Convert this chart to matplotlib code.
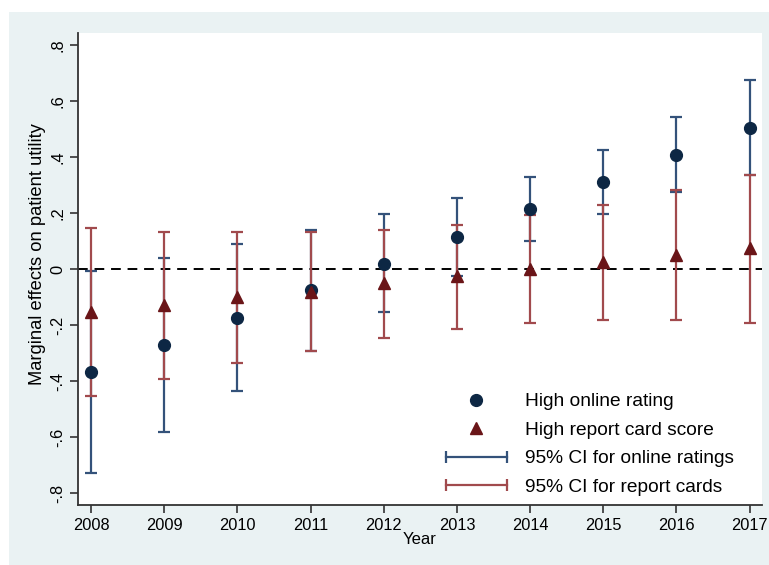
import numpy as np
import matplotlib
matplotlib.use("Agg")
import matplotlib.pyplot as plt
from matplotlib.lines import Line2D
from matplotlib.patches import Rectangle
from matplotlib.legend_handler import HandlerLine2D

plt.rcParams['font.family'] = ['Liberation Sans', 'DejaVu Sans']

# values
years = [2008, 2009, 2010, 2011, 2012, 2013, 2014, 2015, 2016, 2017]
online = [-0.368, -0.270, -0.174, -0.076, 0.020, 0.116, 0.214, 0.312, 0.408, 0.506]
online_lo = [-0.727, -0.581, -0.436, -0.292, -0.154, -0.024, 0.099, 0.198, 0.274, 0.337]
online_hi = [-0.005, 0.040, 0.090, 0.140, 0.196, 0.256, 0.330, 0.426, 0.543, 0.675]
report = [-0.154, -0.128, -0.101, -0.080, -0.050, -0.026, 0.000, 0.027, 0.050, 0.075]
report_lo = [-0.454, -0.393, -0.336, -0.291, -0.245, -0.214, -0.193, -0.181, -0.181, -0.191]
report_hi = [0.146, 0.134, 0.131, 0.131, 0.139, 0.157, 0.193, 0.231, 0.282, 0.337]
yticks = [-0.8, -0.6, -0.4, -0.2, 0, 0.2, 0.4, 0.6, 0.8]
ytick_labels = ['-.8', '-.6', '-.4', '-.2', '0', '.2', '.4', '.6', '.8']

navy = '#0d2744'
navy_ci = '#34527a'
maroon = '#6a1518'
maroon_ci = '#a14a4d'
bg = '#eaf2f3'

fig = plt.figure(figsize=(7.69, 5.65), dpi=100)
fig.patches.append(Rectangle((9 / 769, 0), 1, 1 - 12 / 565, transform=fig.transFigure,
                             facecolor=bg, edgecolor='none', zorder=-10))
ax = fig.add_axes([78 / 769, 1 - 505 / 565, (762 - 78) / 769, (505 - 33) / 565])
ax.set_facecolor('white')

x = np.array(years)
on = np.array(online)
rp = np.array(report)

# confidence intervals first, markers on top
ax.errorbar(x, on, yerr=[on - np.array(online_lo), np.array(online_hi) - on],
            fmt='none', ecolor=navy_ci, elinewidth=1.6, capsize=4, capthick=1.6, zorder=2)
ax.errorbar(x, rp, yerr=[rp - np.array(report_lo), np.array(report_hi) - rp],
            fmt='none', ecolor=maroon_ci, elinewidth=1.6, capsize=4, capthick=1.6, zorder=3)
ax.plot(x, on, 'o', color=navy, markersize=8.5, zorder=4)
ax.plot(x, rp, '^', color=maroon, markersize=9, zorder=5)

ax.axhline(0, color='black', linestyle=(0, (5, 3.5)), linewidth=1.4, zorder=1)

ax.set_xlim(2007.82, 2017.17)
ax.set_ylim(-0.843, 0.844)
ax.set_xticks(years)
ax.set_xticklabels([str(y) for y in years], fontsize=11.8)
ax.set_yticks(yticks)
ax.set_yticklabels(ytick_labels, fontsize=11.8, rotation=90, va='center')
ax.tick_params(axis='both', length=6, width=1.2, color='#333333', pad=3)

for side in ['top', 'right']:
    ax.spines[side].set_visible(False)
for side in ['left', 'bottom']:
    ax.spines[side].set_color('#333333')
    ax.spines[side].set_linewidth(1.3)

ax.set_xlabel('Year', fontsize=12, labelpad=0)
ax.set_ylabel('Marginal effects on patient utility', fontsize=13.2)
ax.yaxis.set_label_coords(-0.047, 0.532)

h_on = Line2D([], [], linestyle='none', marker='o', color=navy, markersize=8.5)
h_rp = Line2D([], [], linestyle='none', marker='^', color=maroon, markersize=9)
h_onci = Line2D([], [], color=navy_ci, linewidth=1.6, marker='|', markersize=8, markeredgewidth=1.6)
h_rpci = Line2D([], [], color=maroon_ci, linewidth=1.6, marker='|', markersize=8, markeredgewidth=1.6)
leg = ax.legend([h_on, h_rp, h_onci, h_rpci],
                ['High online rating', 'High report card score',
                 '95% CI for online ratings', '95% CI for report cards'],
                handler_map={h_onci: HandlerLine2D(numpoints=2), h_rpci: HandlerLine2D(numpoints=2),
                             h_on: HandlerLine2D(numpoints=1), h_rp: HandlerLine2D(numpoints=1)},
                loc='upper left', bbox_to_anchor=((440 - 78) / 684, (505 - 393) / 472),
                frameon=False, fontsize=13.8, handlelength=3.8, handletextpad=0.62,
                labelspacing=0.58, borderpad=0, borderaxespad=0)

fig.savefig('out.png', dpi=100, facecolor='white')
